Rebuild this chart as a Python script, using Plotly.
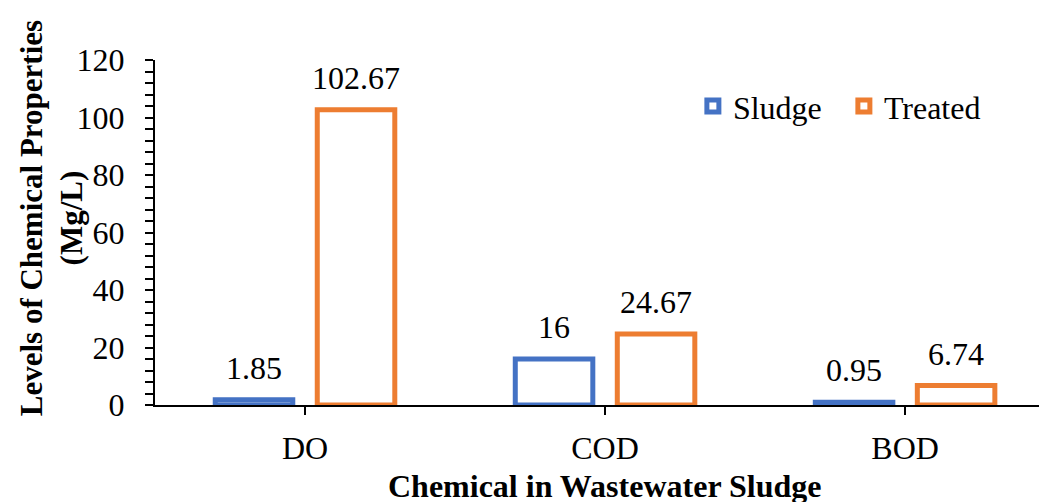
import plotly.graph_objects as go

categories = ["DO", "COD", "BOD"]
sludge = [1.85, 16, 0.95]
treated = [102.67, 24.67, 6.74]
sludge_labels = ["1.85", "16", "0.95"]
treated_labels = ["102.67", "24.67", "6.74"]

FONT = "Liberation Serif, Times New Roman, serif"
BLUE = "#4472C4"
ORANGE = "#ED7D31"
FS = 32

fig = go.Figure()
fig.add_trace(go.Bar(
    name="Sludge", x=categories, y=sludge,
    marker=dict(color="white", line=dict(color=BLUE, width=5)),
))
fig.add_trace(go.Bar(
    name="Treated", x=categories, y=treated,
    marker=dict(color="white", line=dict(color=ORANGE, width=5)),
))

# data labels above each bar
for cat, v, lab in zip(categories, sludge, sludge_labels):
    fig.add_annotation(x=cat, y=v, text=lab, xref="x", yref="y", showarrow=False,
                       xanchor="center", yanchor="bottom", xshift=-51, yshift=12,
                       font=dict(family=FONT, size=FS, color="black"))
for cat, v, lab in zip(categories, treated, treated_labels):
    fig.add_annotation(x=cat, y=v, text=lab, xref="x", yref="y", showarrow=False,
                       xanchor="center", yanchor="bottom", xshift=51, yshift=12,
                       font=dict(family=FONT, size=FS, color="black"))

fig.update_layout(
    width=1039, height=494,
    margin=dict(l=147, r=0, t=52, b=97),
    paper_bgcolor="white", plot_bgcolor="white",
    barmode="group", bargap=0.32, bargroupgap=0.24,
    font=dict(family=FONT, size=FS, color="black"),
    showlegend=True,
    legend=dict(orientation="h", x=0.603, y=0.866, xanchor="left", yanchor="middle",
                font=dict(family=FONT, size=FS, color="black"),
                bgcolor="rgba(0,0,0,0)", itemwidth=30, entrywidth=106),
    xaxis=dict(
        range=[-0.5, 2.473], showline=True, linecolor="black", linewidth=2,
        ticks="outside", ticklen=8, tickwidth=2, tickcolor="black",
        tickfont=dict(family=FONT, size=FS, color="black"), ticklabelstandoff=6,
        showgrid=False, zeroline=False, automargin=False,
    ),
    yaxis=dict(
        range=[0, 120], dtick=20, showline=True, linecolor="black", linewidth=2,
        ticks="outside", ticklen=8, tickwidth=2, tickcolor="black",
        minor=dict(dtick=4, ticks="outside", ticklen=8, tickwidth=1.5, tickcolor="black"),
        tickfont=dict(family=FONT, size=FS, color="black"), ticklabelstandoff=14,
        showgrid=False, zeroline=False, automargin=False,
    ),
)

fig.add_annotation(
    text="<b>Levels of Chemical Properties<br>(Mg/L)</b>",
    xref="paper", yref="paper", x=-0.116, y=0.54, xanchor="center", yanchor="middle",
    textangle=-90, showarrow=False,
    font=dict(family=FONT, size=31, color="black"),
)
fig.add_annotation(
    text="<b>Chemical in Wastewater Sludge</b>",
    xref="paper", yref="paper", x=0.504, y=-0.236, xanchor="center", yanchor="middle",
    showarrow=False,
    font=dict(family=FONT, size=FS, color="black"),
)

fig.write_html("out.html")
